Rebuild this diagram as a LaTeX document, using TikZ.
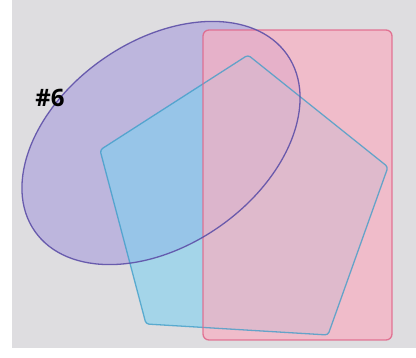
\documentclass[tikz,border=0pt]{standalone}
\usepackage{fontspec}
\setmainfont{Open Sans}
\begin{document}
\begin{tikzpicture}[x=1pt,y=-1pt,
  ellfillst/.style={fill=ellfill,draw=none,fill opacity=0.6},
  rectfillst/.style={fill=rectfill,draw=none,fill opacity=0.72,rounded corners=6pt},
  pentfillst/.style={fill=pentfill,draw=none,fill opacity=0.6,rounded corners=3pt},
  elledge/.style={draw=ellline,line width=1.3pt,draw opacity=0.9},
  rectedge/.style={draw=rectline,line width=1.3pt,rounded corners=6pt,draw opacity=0.85},
  pentedge/.style={draw=pentline,line width=1.3pt,rounded corners=3pt,draw opacity=0.75},
  labeltext/.style={font=\bfseries\fontsize{24}{28}\selectfont,text=black}]
\definecolor{paperc}{HTML}{DEDDE0}
\definecolor{ellfill}{HTML}{A89CDC}
\definecolor{ellline}{HTML}{5E50A8}
\definecolor{rectfill}{HTML}{F7B0C2}
\definecolor{rectline}{HTML}{E06488}
\definecolor{pentfill}{HTML}{7ED0F0}
\definecolor{pentline}{HTML}{3A9CC8}
\useasboundingbox (0,0) rectangle (416,358);
\fill[white] (0,0) rectangle (416,358);
\fill[paperc] (12,0) rectangle (416,348);
% fills
\fill[ellfillst,rotate around={35:(161,143)}] (161,143) ellipse [x radius=154,y radius=102];
\fill[pentfillst] (248,55) -- (388,167) -- (328,335) -- (146,324) -- (100,150) -- cycle;
\fill[rectfillst] (203,30) rectangle (392,340);
% outlines
\draw[pentedge] (248,55) -- (388,167) -- (328,335) -- (146,324) -- (100,150) -- cycle;
\draw[rectedge] (203,30) rectangle (392,340);
\draw[elledge,rotate around={35:(161,143)}] (161,143) ellipse [x radius=154,y radius=102];
\node[labeltext] (lbl) at (50,98) {\#6};
\end{tikzpicture}
\end{document}
